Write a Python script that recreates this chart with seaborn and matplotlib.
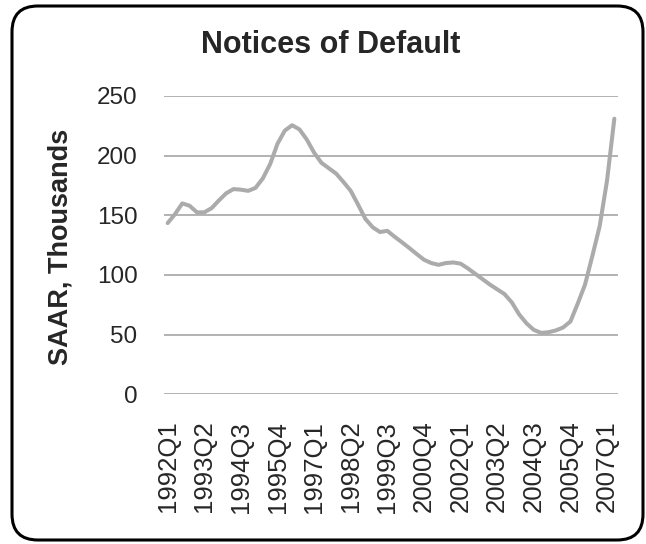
import matplotlib
matplotlib.use("Agg")
import matplotlib.pyplot as plt
from matplotlib.patches import FancyBboxPatch
import seaborn as sns
import pandas as pd

# ---- data ----
title = "Notices of Default"
y_label = "SAAR, Thousands"
quarters = [f"{y}Q{q}" for y in range(1992, 2008) for q in range(1, 5)][:62]
notices = [143.5, 151, 160, 158, 152.5, 152.5, 156, 162.5, 168.5, 172,
           171.5, 170.5, 173, 181, 193, 210, 221, 225.5, 222, 213.5,
           202.5, 194, 189.5, 185, 178, 170.5, 159, 147, 140, 136,
           137, 132, 127.4, 122.6, 117.6, 112.8, 110, 108.5, 110, 110.5,
           109.5, 105.5, 101, 96.5, 92, 88, 84, 77, 67, 59.5,
           54, 51.5, 52, 53.5, 56, 61, 76, 92, 116, 141,
           179, 231]
tick_labels = ["1992Q1", "1993Q2", "1994Q3", "1995Q4", "1997Q1", "1998Q2",
               "1999Q3", "2000Q4", "2002Q1", "2003Q2", "2004Q3", "2005Q4",
               "2007Q1"]
y_ticks = [0, 50, 100, 150, 200, 250]

df = pd.DataFrame({"quarter": quarters, "value": notices})
df["pos"] = range(len(df))

sns.set_style("white")
plt.rcParams["font.family"] = ["Liberation Sans", "DejaVu Sans"]

fig = plt.figure(figsize=(6.46, 5.44), dpi=100)
ax = fig.add_axes([164 / 646, 1 - 394.3 / 544, (618 - 164) / 646, (394.3 - 96) / 544])

sns.lineplot(data=df, x="pos", y="value", ax=ax, color="#ABABAB",
             linewidth=2.9, solid_joinstyle="round", solid_capstyle="round")

ax.set_xlim(-0.5, len(quarters) - 0.5)
ax.set_ylim(0, 250)
ax.set_yticks(y_ticks)
ax.set_yticklabels([str(v) for v in y_ticks], fontsize=17.5)
tick_pos = [quarters.index(t) for t in tick_labels]
ax.set_xticks(tick_pos)
ax.set_xticklabels(tick_labels, rotation=90, fontsize=18.5)
ax.tick_params(axis="y", length=0, pad=19)
ax.tick_params(axis="x", length=0, pad=19)
for s in ax.spines.values():
    s.set_visible(False)
ax.yaxis.grid(True, color="#A6A6A6", linewidth=1.2)
ax.xaxis.grid(False)
ax.set_axisbelow(True)
ax.set_xlabel("")
ax.set_ylabel("")

fig.text(60.5 / 646, 1 - 247 / 544, y_label, rotation=90, ha="center", va="center",
         fontsize=19.5, fontweight="bold")
fig.text(331 / 646, 1 - 45 / 544, title, ha="center", va="center",
         fontsize=22, fontweight="bold")

border = FancyBboxPatch((12 / 646, 1 - 540 / 544), (643 - 12) / 646, (540 - 6) / 544,
                        boxstyle="round,pad=0,rounding_size=0.04",
                        transform=fig.transFigure, fill=False,
                        edgecolor="black", linewidth=2.2, mutation_aspect=646 / 544)
fig.patches.append(border)

fig.savefig("out.png", dpi=100)
